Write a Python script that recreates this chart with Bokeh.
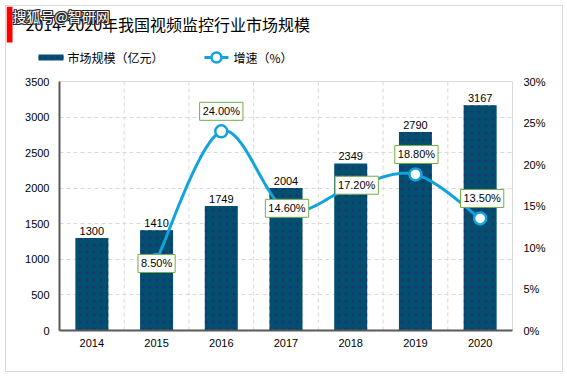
from bokeh.plotting import figure
from bokeh.layouts import column
from bokeh.models import (Range1d, LinearAxis, FixedTicker, Label, Span,
                          CustomJSTickFormatter, FactorRange)
from bokeh.core.properties import value
from bokeh.embed import file_html
from bokeh.resources import INLINE
import numpy as np

# ---------------- data ----------------
years = ["2014", "2015", "2016", "2017", "2018", "2019", "2020"]
market_size = [1300, 1410, 1749, 2004, 2349, 2790, 3167]
growth_years = ["2015", "2016", "2017", "2018", "2019", "2020"]
growth_rate = [8.5, 24.0, 14.6, 17.2, 18.8, 13.5]
left_ticks = [0, 500, 1000, 1500, 2000, 2500, 3000, 3500]
right_ticks = [0, 5, 10, 15, 20, 25, 30]
title_text = "2014-2020年我国视频监控行业市场规模"
bar_name = "市场规模（亿元）"
line_name = "增速（%）"
watermark = "搜狐号@智研网"

# ---------------- styles ----------------
BAR = "#03506e"
DOT = "#1d2f7a"
LINE = "#13a3dc"
GRID = "#d9d9d9"
AXIS = "#595959"
CJK = "Noto Sans CJK SC"
LAT = "Liberation Sans"
pct_off = [(0, -3.5), (0, 20), (1, 1), (6, 2.5), (1, 20), (2, 20)]  # screen px, +y up

W = 556
HEAD_H = 60
CHART_H = 305

# ---------------- header (title, watermark, legend) ----------------
# header uses reference-pixel coordinates: x 6..562, y 6..66 (top down)
h = figure(width=W, height=HEAD_H, x_range=Range1d(6, 6 + W), y_range=Range1d(6 + HEAD_H, 6),
           output_backend="svg", toolbar_location=None, title=None,
           min_border=0, min_border_left=0, min_border_right=0,
           min_border_top=0, min_border_bottom=0)
h.frame_align = False
h.axis.visible = False
h.grid.visible = False
h.outline_line_color = None
h.background_fill_color = "white"
h.border_fill_color = "white"

h.quad(left=[6], right=[12], top=[6], bottom=[42], fill_color="#ff0000", line_color=None)
h.text(x=[25], y=[23], text=[title_text], text_align="left", text_baseline="middle",
       text_font=value(CJK), text_font_size="16px", text_color="#000000")
for ox, oy in [(-1, 0), (1, 0), (0, -1), (0, 1), (-1, -1), (1, 1), (-1, 1), (1, -1)]:
    h.text(x=[12], y=[15], text=[watermark], x_offset=ox, y_offset=oy, text_align="left",
           text_baseline="middle", text_font=value(CJK), text_font_size="14px",
           text_color="#2a2a2a")
h.text(x=[12], y=[15], text=[watermark], text_align="left", text_baseline="middle",
       text_font=value(CJK), text_font_size="14px", text_color="#ffffff")

# legend keys
h.quad(left=[38], right=[63], top=[54], bottom=[60], fill_color=BAR, line_color=None,
       hatch_pattern=".", hatch_color=DOT, hatch_scale=6, hatch_weight=1, hatch_alpha=0.7)
h.text(x=[67], y=[57], text=[bar_name], text_align="left", text_baseline="middle",
       text_font=value(CJK), text_font_size="12px", text_color="#000000")
h.line(x=[204, 228], y=[57, 57], line_color=LINE, line_width=3)
h.scatter(x=[216], y=[57], size=10, fill_color="white", line_color=LINE, line_width=2.5)
h.text(x=[233], y=[57], text=[line_name], text_align="left", text_baseline="middle",
       text_font=value(CJK), text_font_size="12px", text_color="#000000")

# ---------------- chart ----------------
p = figure(width=W, height=CHART_H, title=None,
           x_range=FactorRange(factors=years, range_padding=0),
           y_range=Range1d(left_ticks[0], left_ticks[-1]),
           output_backend="svg", toolbar_location=None,
           min_border_left=53, min_border_right=50,
           min_border_top=15, min_border_bottom=41)
p.frame_align = False
p.extra_y_ranges = {"pct": Range1d(right_ticks[0], right_ticks[-1])}
p.outline_line_color = GRID
p.background_fill_color = "white"
p.border_fill_color = "white"

p.xgrid.visible = False
p.ygrid.grid_line_color = GRID
p.ygrid.grid_line_dash = "4 3"
p.ygrid.ticker = FixedTicker(ticks=left_ticks)
for k in range(1, len(years)):
    sp = Span(location=k, dimension="height", line_color=GRID, line_dash="4 3", line_width=1)
    sp.level = "underlay"
    p.add_layout(sp)

bars = p.vbar(x=years, top=market_size, width=0.51, fill_color=BAR, line_color=None,
              hatch_pattern=".", hatch_color=DOT, hatch_scale=7, hatch_weight=1, hatch_alpha=0.7)
p.text(x=years, y=market_size, text=[str(v) for v in market_size],
       text_align="center", text_baseline="bottom", y_offset=-3,
       text_font=value(LAT), text_font_size="11px", text_color="#000000")

# smooth line (Catmull-Rom through the growth points)
gx = [years.index(y) + 0.5 for y in growth_years]
pts = list(zip(gx, growth_rate))
ext = [pts[0]] + pts + [pts[-1]]
sx, sy = [], []
for i in range(1, len(ext) - 2):
    p0, p1, p2, p3 = [np.array(e, dtype=float) for e in ext[i - 1:i + 3]]
    for t in np.linspace(0, 1, 24, endpoint=False):
        q = 0.5 * (2 * p1 + (-p0 + p2) * t + (2 * p0 - 5 * p1 + 4 * p2 - p3) * t ** 2
                   + (-p0 + 3 * p1 - 3 * p2 + p3) * t ** 3)
        sx.append(q[0]); sy.append(q[1])
sx.append(pts[-1][0]); sy.append(pts[-1][1])
p.line(sx, sy, y_range_name="pct", line_color=LINE, line_width=3)
p.scatter(x=growth_years, y=growth_rate, y_range_name="pct", size=12,
          fill_color="white", line_color=LINE, line_width=2.5)

for (yr, g), (dx, dy) in zip(zip(growth_years, growth_rate), pct_off):
    p.add_layout(Label(x=years.index(yr) + 0.5, y=g, y_range_name="pct", x_offset=dx, y_offset=dy,
                       text=f"{g:.2f}%", text_align="center", text_baseline="middle",
                       text_font=LAT, text_font_size="11px", text_color="#000000",
                       background_fill_color="white", border_line_color="#70ad47",
                       border_line_width=1, padding=3))

p.yaxis.ticker = FixedTicker(ticks=left_ticks)
for ax in (p.xaxis[0], p.yaxis[0]):
    ax.axis_line_color = AXIS
    ax.axis_line_width = 2
    ax.major_tick_line_color = None
    ax.minor_tick_line_color = None
    ax.major_label_text_font = LAT
    ax.major_label_text_font_size = "11px"
    ax.major_label_text_color = "#000000"
p.yaxis.major_label_standoff = 4
p.xaxis.major_label_standoff = 2

rax = LinearAxis(y_range_name="pct", ticker=FixedTicker(ticks=right_ticks),
                 formatter=CustomJSTickFormatter(code="return tick + '%';"))
rax.axis_line_color = None
rax.major_tick_line_color = None
rax.minor_tick_line_color = None
rax.major_label_text_font = LAT
rax.major_label_text_font_size = "11px"
rax.major_label_text_color = "#000000"
rax.major_label_standoff = 5
p.add_layout(rax, "right")

layout = column(h, p, spacing=0,
                styles={"border": "1px solid #d9d9d9", "margin": "5px 0 0 5px"})

open("out.html", "w").write(file_html(layout, INLINE))
